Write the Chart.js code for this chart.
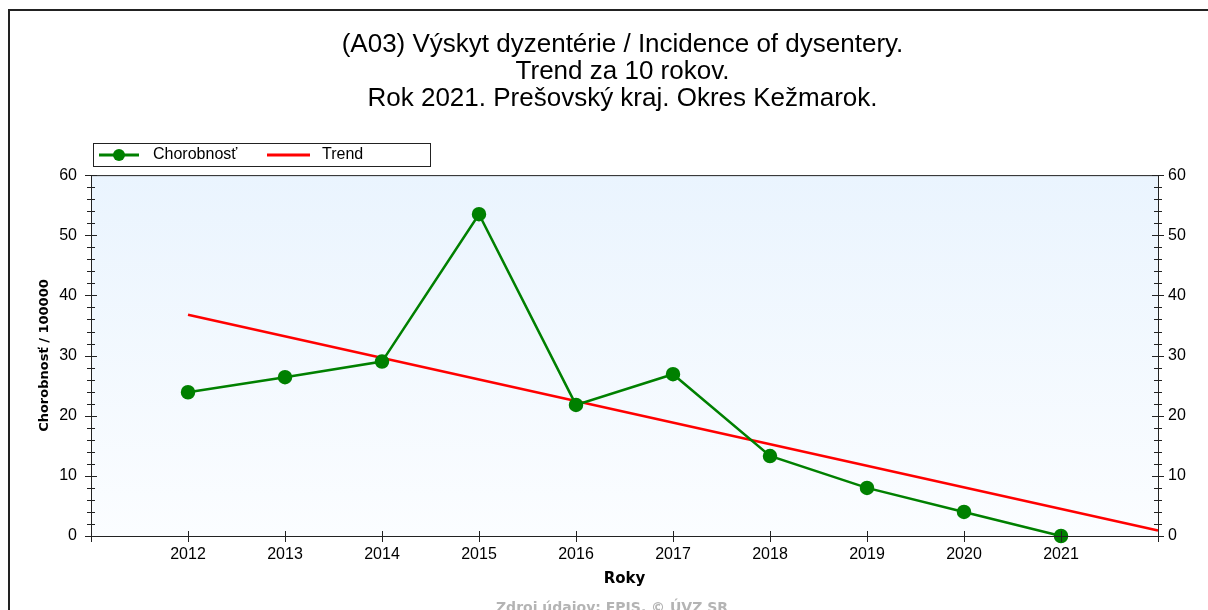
<!DOCTYPE html>
<html>
<head>
<meta charset="utf-8">
<script src="https://cdn.jsdelivr.net/npm/chart.js@4.4.1/dist/chart.umd.min.js"></script>
<style>
  body { margin: 0; background: #fff; }
  #wrap { position: relative; width: 1208px; height: 610px; overflow: hidden; }
  #frame { position: absolute; left: 8px; top: 9px; width: 1300px; height: 700px;
           border-top: 2px solid #222; border-left: 2px solid #222; }
  canvas { position: absolute; left: 0; top: 0; }
</style>
</head>
<body>
<div id="wrap">
  <div id="frame"></div>
  <canvas id="chart" width="1208" height="610"></canvas>
</div>
<script>
const years = [2012, 2013, 2014, 2015, 2016, 2017, 2018, 2019, 2020, 2021];
const incidence = [23.9, 26.4, 29.0, 53.5, 21.8, 26.9, 13.3, 8.0, 4.0, 0];
// trend line, start and end
const trendYears = [2012, 2022];
const trendValues = [36.8, 0.9];
const yTicks = [0, 10, 20, 30, 40, 50, 60];

const titleLines = [
  '(A03) Výskyt dyzentérie / Incidence of dysentery.',
  'Trend za 10 rokov.',
  'Rok 2021. Prešovský kraj. Okres Kežmarok.'
];

const font = '"Liberation Sans", Arial, sans-serif';
const boldFont = '"DejaVu Sans", Tahoma, sans-serif';

// plot background + border, tick marks, legend box, footer
const decor = {
  id: 'decor',
  beforeDatasetsDraw(chart) {
    const { ctx, chartArea: a } = chart;
    const g = ctx.createLinearGradient(0, a.top, 0, a.bottom);
    g.addColorStop(0, '#eaf4fe');
    g.addColorStop(1, '#fbfdff');
    ctx.save();
    ctx.fillStyle = g;
    ctx.fillRect(a.left, a.top, a.right - a.left, a.bottom - a.top);
    ctx.restore();
  },
  afterDraw(chart) {
    const { ctx, chartArea: a, scales } = chart;
    ctx.save();
    ctx.strokeStyle = '#222';
    ctx.lineWidth = 1;
    ctx.strokeRect(a.left + 0.5, a.top + 0.5, a.right - a.left, a.bottom - a.top);

    // y ticks, both axes
    for (let v = 0; v <= 60; v += 2) {
      const y = Math.round(scales.y.getPixelForValue(v)) + 0.5;
      const len = v % 10 === 0 ? 6 : 4;
      ctx.beginPath();
      ctx.moveTo(a.left - len, y); ctx.lineTo(a.left + len, y);
      ctx.moveTo(a.right - len, y); ctx.lineTo(a.right + len, y);
      ctx.stroke();
    }
    // x ticks
    for (let v = 2011; v <= 2022; v++) {
      const x = Math.round(scales.x.getPixelForValue(v)) + 0.5;
      ctx.beginPath();
      ctx.moveTo(x, a.bottom - 5); ctx.lineTo(x, a.bottom + 6);
      ctx.stroke();
    }

    // legend
    const lx = 93, ly = 143, lw = 337, lh = 23;
    ctx.fillStyle = '#fff';
    ctx.fillRect(lx, ly, lw, lh);
    ctx.strokeStyle = '#222';
    ctx.strokeRect(lx + 0.5, ly + 0.5, lw, lh);
    const my = ly + lh / 2 + 0.5;
    ctx.lineWidth = 3;
    ctx.strokeStyle = '#008000';
    ctx.beginPath(); ctx.moveTo(99, my); ctx.lineTo(139, my); ctx.stroke();
    ctx.fillStyle = '#008000';
    ctx.beginPath(); ctx.arc(119, my, 6, 0, Math.PI * 2); ctx.fill();
    ctx.strokeStyle = '#ff0000';
    ctx.beginPath(); ctx.moveTo(267, my); ctx.lineTo(310, my); ctx.stroke();
    ctx.fillStyle = '#000';
    ctx.font = '16px ' + font;
    ctx.textBaseline = 'middle';
    ctx.fillText('Chorobnosť', 153, my);
    ctx.fillText('Trend', 322, my);

    // footer
    ctx.fillStyle = '#b4b4b4';
    ctx.font = 'bold 14px ' + boldFont;
    ctx.textAlign = 'center';
    ctx.textBaseline = 'alphabetic';
    ctx.fillText('Zdroj údajov: EPIS, © ÚVZ SR', 612, 612);
    ctx.restore();
  }
};

new Chart(document.getElementById('chart'), {
  type: 'line',
  data: {
    datasets: [
      {
        label: 'Chorobnosť',
        data: years.map((y, i) => ({ x: y, y: incidence[i] })),
        borderColor: '#008000',
        backgroundColor: '#008000',
        borderWidth: 2.5,
        pointRadius: 6,
        pointHoverRadius: 6,
        tension: 0
      },
      {
        label: 'Trend',
        data: trendYears.map((y, i) => ({ x: y, y: trendValues[i] })),
        borderColor: '#ff0000',
        borderWidth: 2.5,
        pointRadius: 0,
        tension: 0
      }
    ]
  },
  options: {
    responsive: false,
    animation: false,
    clip: false,
    layout: { padding: { top: 31, left: 37, right: 0, bottom: 22 } },
    plugins: {
      legend: { display: false },
      tooltip: { enabled: false },
      title: {
        display: true,
        text: titleLines,
        color: '#000',
        font: { family: font, size: 26, weight: 'normal', lineHeight: 1.04 },
        padding: { top: 0, bottom: 63 }
      }
    },
    scales: {
      x: {
        type: 'linear',
        min: 2011,
        max: 2022,
        afterBuildTicks: s => { s.ticks = years.map(v => ({ value: v })); },
        ticks: { color: '#000', font: { family: font, size: 16 }, padding: 9, callback: v => String(v), maxRotation: 0, autoSkip: false },
        grid: { display: false, drawTicks: false },
        border: { display: false },
        title: { display: true, text: 'Roky', color: '#000', font: { family: boldFont, size: 15, weight: 'bold' }, padding: { top: 4, bottom: 0 } },
        afterFit: s => { s.height = 52; }
      },
      y: {
        min: 0,
        max: 60,
        afterBuildTicks: s => { s.ticks = yTicks.map(v => ({ value: v })); },
        ticks: { color: '#000', font: { family: font, size: 16 }, padding: 14 },
        grid: { display: false, drawTicks: false },
        border: { display: false },
        title: { display: true, text: 'Chorobnosť / 100000', color: '#000', font: { family: boldFont, size: 13, weight: 'bold' }, padding: 0 },
        afterFit: s => { s.width = 54; }
      },
      y2: {
        position: 'right',
        min: 0,
        max: 60,
        afterBuildTicks: s => { s.ticks = yTicks.map(v => ({ value: v })); },
        ticks: { color: '#000', font: { family: font, size: 16 }, padding: 10 },
        grid: { display: false, drawTicks: false },
        border: { display: false },
        afterFit: s => { s.width = 50; }
      }
    }
  },
  plugins: [decor]
});
</script>
</body>
</html>
